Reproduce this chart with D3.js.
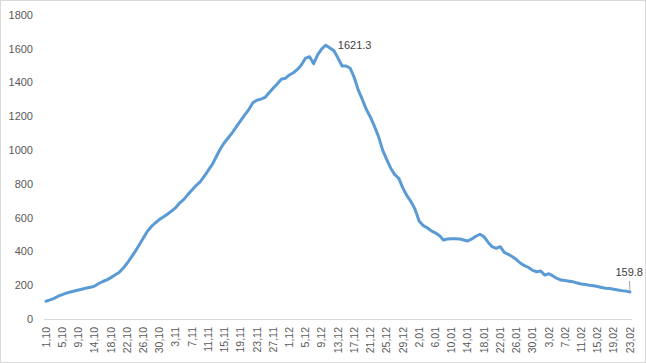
<!DOCTYPE html>
<html>
<head>
<meta charset="utf-8">
<script src="https://cdn.jsdelivr.net/npm/d3@7"></script>
<style>
    body { margin: 0; background: #fff; }
    svg text { font-family: "Liberation Sans", Arial, sans-serif; }
</style>
</head>
<body>
<div id="chart"></div>
<script>
// months shown on the axis (label suffix, number of days in the data)
var months = [["10", 31], ["11", 30], ["12", 31], ["01", 31], ["02", 23]];
var missingDates = ["13,10"];

// daily values
var values = [
    105, 113, 122, 135, 144, 153, 160, 166, 172, 178,
    183, 188, 195, 210, 222, 232, 245, 260, 275, 300,
    330, 365, 400, 440, 480, 520, 548, 570, 590, 605,
    622, 640, 660, 688, 708, 738, 764, 790, 812, 845,
    880, 915, 962, 1008, 1045, 1075, 1105, 1140, 1175, 1208,
    1240, 1280, 1295, 1302, 1312, 1340, 1366, 1392, 1420, 1425,
    1445, 1458, 1478, 1505, 1545, 1553, 1512, 1565, 1600, 1621.3,
    1605, 1588, 1545, 1498, 1498, 1485, 1430, 1355, 1300, 1240,
    1195, 1140, 1080, 1000, 945, 893, 855, 833, 775, 730,
    695, 650, 580, 553, 540, 522, 510, 495, 468, 474,
    475, 475, 474, 468, 462, 474, 490, 502, 487, 455,
    428, 418, 428, 395, 383, 369, 352, 330, 316, 305,
    288, 280, 284, 260, 268, 255, 240, 231, 228, 224,
    220, 213, 207, 204, 200, 197, 192, 187, 182, 180,
    176, 172, 168, 165, 159.8
];

var yTicks = [0, 200, 400, 600, 800, 1000, 1200, 1400, 1600, 1800];
var labelledValues = [1621.3, 159.8];

var dates = [];
months.forEach(function(m) {
    for (var day = 1; day <= m[1]; day++) {
        var s = day + "," + m[0];
        if (missingDates.indexOf(s) < 0) dates.push(s);
    }
});

var data = dates.map(function(d, i) {
    return { date: d, value: values[i] };
});

var w = 646;
var h = 363;

var svg = d3.select("#chart")
            .append("svg")
            .attr("width", w)
            .attr("height", h);

// chart border
svg.append("rect")
    .attr("x", 0.5)
    .attr("y", 0.5)
    .attr("width", w - 1)
    .attr("height", h - 1)
    .attr("fill", "#fff")
    .attr("stroke", "#d9d9d9");

var x = d3.scaleBand()
          .domain(dates)
          .range([44, 632]);

var y = d3.scaleLinear()
          .domain([0, 1800])
          .range([319, 15]);

function cx(d) {
    return x(d.date) + x.bandwidth() / 2;
}

// y axis labels
svg.selectAll("text.ylab")
    .data(yTicks)
    .enter()
    .append("text")
    .attr("class", "ylab")
    .attr("x", 33)
    .attr("y", function(d) { return y(d); })
    .attr("dy", "0.35em")
    .attr("text-anchor", "end")
    .attr("font-size", "11px")
    .attr("fill", "#595959")
    .text(function(d) { return d; });

// category axis line
svg.append("line")
    .attr("x1", x.range()[0])
    .attr("x2", x.range()[1])
    .attr("y1", y(0) + 0.5)
    .attr("y2", y(0) + 0.5)
    .attr("stroke", "#d9d9d9")
    .attr("stroke-width", 1);

// x labels, every 4th day
svg.selectAll("text.xlab")
    .data(data.filter(function(d, i) { return i % 4 === 0; }))
    .enter()
    .append("text")
    .attr("class", "xlab")
    .attr("transform", function(d) {
        return "translate(" + cx(d) + "," + 327 + ") rotate(-90)";
    })
    .attr("dy", "0.35em")
    .attr("text-anchor", "end")
    .attr("font-size", "10.5px")
    .attr("fill", "#595959")
    .text(function(d) { return d.date; });

// the line
var line = d3.line()
             .x(cx)
             .y(function(d) { return y(d.value); });

svg.append("path")
    .datum(data)
    .attr("d", line)
    .attr("fill", "none")
    .attr("stroke", "#5b9bd5")
    .attr("stroke-width", 3)
    .attr("stroke-linejoin", "round")
    .attr("stroke-linecap", "round");

// data labels
var peak = data.filter(function(d) { return d.value === labelledValues[0]; })[0];
var last = data.filter(function(d) { return d.value === labelledValues[1]; })[0];

svg.append("text")
    .attr("x", cx(peak) + 12)
    .attr("y", y(peak.value))
    .attr("dy", "0.35em")
    .attr("font-size", "11px")
    .attr("fill", "#404040")
    .text(peak.value);

svg.append("line")
    .attr("x1", cx(last) - 0.5)
    .attr("x2", cx(last))
    .attr("y1", y(last.value) - 11)
    .attr("y2", y(last.value) - 1)
    .attr("stroke", "#a6a6a6")
    .attr("stroke-width", 1);

svg.append("text")
    .attr("x", cx(last) + 13)
    .attr("y", y(last.value) - 20)
    .attr("dy", "0.35em")
    .attr("text-anchor", "end")
    .attr("font-size", "11px")
    .attr("fill", "#404040")
    .text(last.value);
</script>
</body>
</html>
